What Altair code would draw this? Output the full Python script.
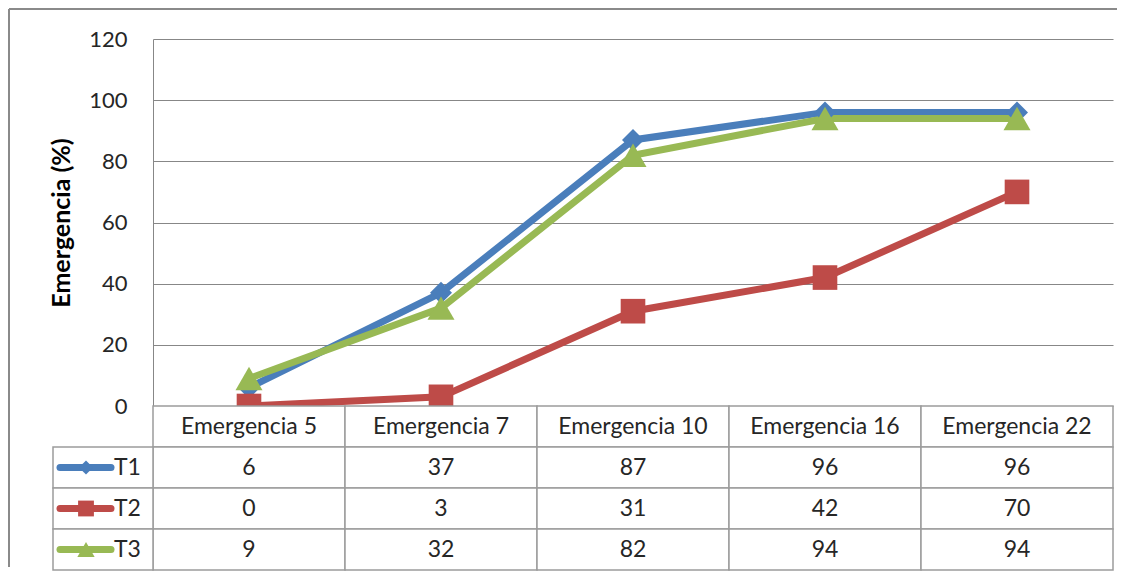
import altair as alt
import pandas as pd

categories = ["Emergencia 5", "Emergencia 7", "Emergencia 10", "Emergencia 16", "Emergencia 22"]
series_names = ["T1", "T2", "T3"]
t1 = [6, 37, 87, 96, 96]
t2 = [0, 3, 31, 42, 70]
t3 = [9, 32, 82, 94, 94]
y_ticks = [0, 20, 40, 60, 80, 100, 120]
colors = ["#4A7EBB", "#BE4B48", "#98B954"]
shapes = ["diamond", "square", "triangle-up"]

FONT = "Lato"
series_vals = {"T1": t1, "T2": t2, "T3": t3}

rows = []
for s in series_names:
    for c, v in zip(categories, series_vals[s]):
        rows.append({"serie": s, "cat": c, "val": v})
df = pd.DataFrame(rows)

color_scale = alt.Scale(domain=series_names, range=colors)
shape_scale = alt.Scale(domain=series_names, range=shapes)
x_point = alt.Scale(type="point", padding=0.5, domain=categories)

W, H = 960, 367

base = alt.Chart(df).encode(
    x=alt.X("cat:N", scale=x_point, axis=None),
    y=alt.Y("val:Q", scale=alt.Scale(domain=[0, 120], nice=False),
            axis=alt.Axis(values=y_ticks, grid=True, gridColor="#878787", gridWidth=1,
                          ticks=False, domain=True, domainColor="#878787", domainWidth=1,
                          labelFont=FONT, labelFontSize=22, labelColor="#262626", labelPadding=26,
                          title="Emergencia (%)", titleFont=FONT, titleFontSize=25,
                          titleFontWeight="bold", titleColor="#000000", titlePadding=14)),
    color=alt.Color("serie:N", scale=color_scale, legend=None),
)

lines = base.mark_line(strokeWidth=7).encode(detail="serie:N")
sizes = alt.Scale(domain=series_names, range=[484, 729, 700])
points = base.mark_point(filled=True, opacity=1).encode(
    shape=alt.Shape("serie:N", scale=shape_scale, legend=None),
    size=alt.Size("serie:N", scale=sizes, legend=None),
)

frame_data = alt.Data(values=[{"f": 1}])
frame_top = alt.Chart(frame_data).mark_rule(color="#8a8a8a", strokeWidth=2).encode(
    x=alt.value(-144), x2=alt.value(964), y=alt.value(-30))
frame_left = alt.Chart(frame_data).mark_rule(color="#8a8a8a", strokeWidth=2).encode(
    x=alt.value(-144), y=alt.value(-30), y2=alt.value(528))

top = alt.layer(frame_top, frame_left, lines, points).properties(width=W, height=H)

# ---- data table ----
row_domain = ["hdr"] + series_names
cells = []
for c_i, c in enumerate(categories):
    cells.append({"row": "hdr", "cat": c, "txt": c})
    for s in series_names:
        cells.append({"row": s, "cat": c, "txt": str(series_vals[s][c_i])})
cells_df = pd.DataFrame(cells)

x_band = alt.Scale(type="band", domain=categories, paddingInner=0, paddingOuter=0)
y_band = alt.Scale(type="band", domain=row_domain, paddingInner=0, paddingOuter=0)

tbase = alt.Chart(cells_df).encode(
    x=alt.X("cat:N", scale=x_band, axis=None),
    y=alt.Y("row:N", scale=y_band, axis=None),
)
cell_rects = tbase.mark_rect(fill="white", stroke="#9c9c9c", strokeWidth=1.5)
cell_text = tbase.mark_text(font=FONT, fontSize=23, color="#262626", align="center",
                            baseline="middle").encode(text="txt:N")

leg_df = pd.DataFrame({"row": series_names})
lbase = alt.Chart(leg_df).encode(y=alt.Y("row:N", scale=y_band, axis=None))
leg_rects = lbase.mark_rect(fill="white", stroke="#9c9c9c", strokeWidth=1.5).encode(
    x=alt.value(-100), x2=alt.value(0))
leg_lines = lbase.mark_rule(strokeWidth=7, strokeCap="round").encode(
    x=alt.value(-93), x2=alt.value(-42),
    color=alt.Color("row:N", scale=color_scale, legend=None))
leg_pts = lbase.mark_point(filled=True, opacity=1).encode(
    x=alt.value(-67),
    color=alt.Color("row:N", scale=color_scale, legend=None),
    shape=alt.Shape("row:N", scale=shape_scale, legend=None),
    size=alt.Size("row:N", scale=alt.Scale(domain=series_names, range=[200, 300, 320]), legend=None))
leg_text = lbase.mark_text(font=FONT, fontSize=23, color="#262626", align="left",
                           baseline="middle").encode(x=alt.value(-39), text="row:N")

table = alt.layer(cell_rects, cell_text, leg_rects, leg_lines, leg_pts, leg_text).properties(
    width=W, height=164)

chart = alt.vconcat(top, table, spacing=0, bounds="flush").resolve_scale(
    color="independent", shape="independent", size="independent"
).properties(padding=0, background="white").configure_view(stroke=None)

chart.save("out.html", embed_options={"renderer": "svg", "actions": False})
